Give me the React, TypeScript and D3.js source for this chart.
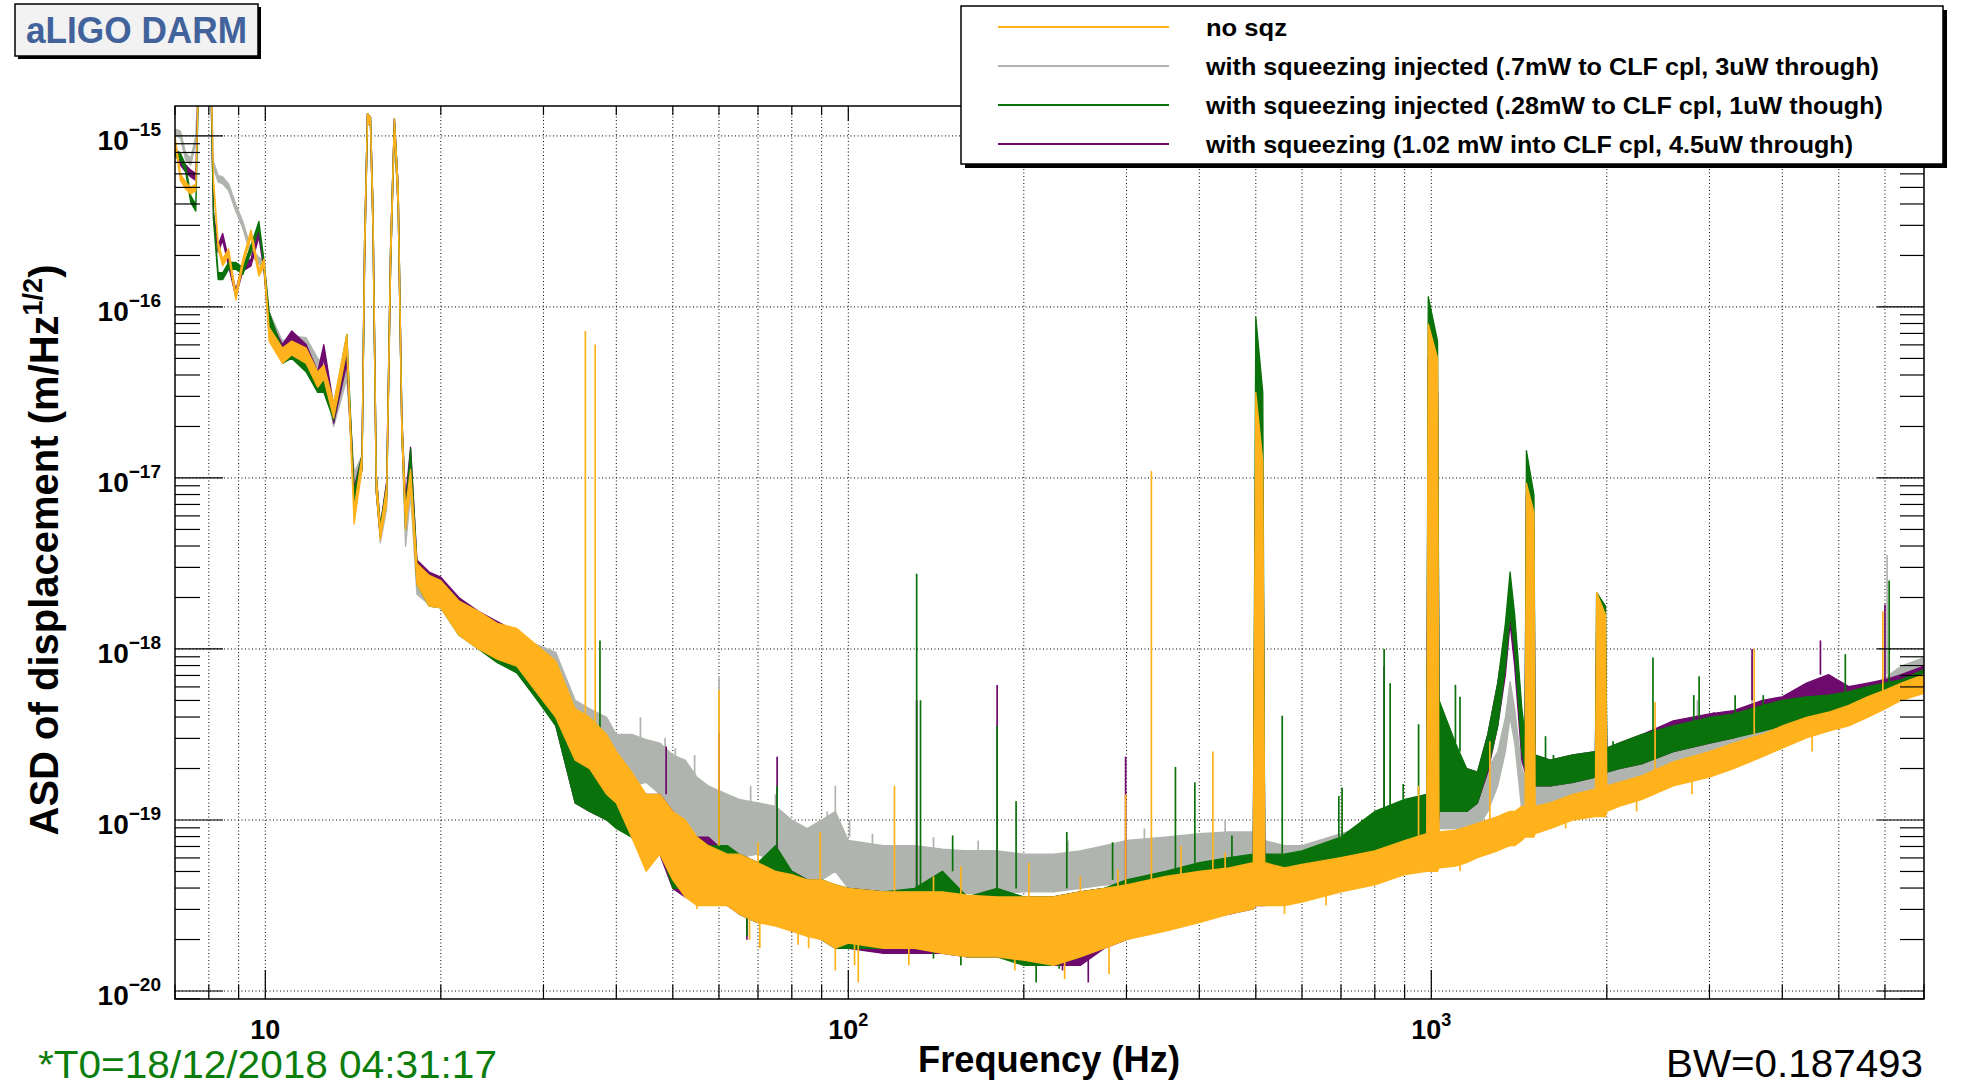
import React from "react";
import * as d3 from "d3";

// ---------------- data ----------------
// Frequencies (Hz) of the knots at which the traces were read.
const freqHz = [
  7.0, 7.15, 7.3, 7.45, 7.6, 7.7, 8.05, 8.15, 8.3, 8.45, 8.65, 8.9, 9.15, 9.45, 9.75, 9.95,
  10.15, 10.7, 11.1, 11.75, 12.3, 12.6, 13.1, 13.8, 14.2, 14.65, 14.8, 14.97, 15.15, 15.3, 15.5, 15.75,
  16.15, 16.4, 16.65, 16.9, 17.15, 17.4, 17.75, 18.2, 19.1, 20, 21.5, 23.2, 25, 27, 29, 31.5,
  34, 36, 38.5, 40, 42.5, 45, 47.5, 50, 52.5, 55, 57.5, 62, 65, 70, 75, 80,
  85, 90, 95, 100, 115, 130, 145, 160, 180, 200, 225, 250, 275, 300, 350, 400,
  450, 495, 500, 514, 518, 560, 600, 700, 800, 900, 982, 988, 1025, 1031, 1100, 1150,
  1200, 1250, 1300, 1340, 1365, 1390, 1430, 1448, 1456, 1500, 1507, 1600, 1750, 1912, 1921, 1990,
  2000, 2100, 2300, 2600, 3000, 3300, 3700, 4000, 4400, 4800, 5200, 5600, 6000, 6400, 7000,
];

// All ASD values below are log10 of the displacement ASD in m/Hz^(1/2):
// lower and upper edge of each noisy trace at every knot.
const noSqzLog10Lo = [
  -15.04, -15.26, -15.31, -15.34, -15.32, -14.54, -14.54, -15.29, -15.66, -15.76, -15.7, -15.96, -15.76, -15.59, -15.82, -15.76,
  -16.2, -16.33, -16.28, -16.33, -16.47, -16.42, -16.65, -16.25, -17.27, -16.95, -15.75, -14.92, -14.94, -15.55, -17.08, -17.36,
  -17.15, -15.78, -14.95, -15.42, -16.75, -17.3, -17.05, -17.62, -17.75, -17.76, -17.92, -18.0, -18.06, -18.1, -18.24, -18.4,
  -18.65, -18.7, -18.85, -18.9, -19.1, -19.3, -19.2, -19.35, -19.45, -19.5, -19.5, -19.5, -19.55, -19.6, -19.62, -19.65,
  -19.68, -19.7, -19.75, -19.72, -19.75, -19.75, -19.78, -19.8, -19.8, -19.82, -19.85, -19.8, -19.75, -19.7, -19.65, -19.6,
  -19.55, -19.52, -19.5, -19.5, -19.5, -19.5, -19.48, -19.42, -19.38, -19.32, -19.3, -19.3, -19.3, -19.28, -19.27, -19.25,
  -19.22, -19.2, -19.18, -19.16, -19.15, -19.15, -19.12, -19.1, -19.1, -19.1, -19.08, -19.05, -19.0, -18.98, -18.98, -18.98,
  -18.95, -18.92, -18.88, -18.8, -18.75, -18.7, -18.63, -18.58, -18.52, -18.48, -18.45, -18.4, -18.35, -18.3, -18.26,
];
const noSqzLog10Hi = [
  -15.0, -15.22, -15.27, -15.3, -15.28, -14.5, -14.5, -15.25, -15.62, -15.72, -15.66, -15.92, -15.72, -15.55, -15.78, -15.72,
  -16.12, -16.24, -16.2, -16.24, -16.38, -16.34, -16.56, -16.16, -17.18, -16.87, -15.62, -14.87, -14.89, -15.42, -16.98, -17.3,
  -17.05, -15.66, -14.9, -15.3, -16.65, -17.18, -16.95, -17.5, -17.57, -17.6, -17.72, -17.78, -17.85, -17.88, -17.97, -18.07,
  -18.35, -18.4, -18.5, -18.6, -18.72, -18.85, -18.85, -18.95, -19.0, -19.1, -19.15, -19.2, -19.2, -19.25, -19.3, -19.32,
  -19.35, -19.35, -19.38, -19.4, -19.42, -19.42, -19.42, -19.44, -19.45, -19.45, -19.45, -19.42, -19.4, -19.38, -19.33, -19.3,
  -19.28, -19.25, -16.5, -16.9, -19.25, -19.28, -19.26, -19.22, -19.18, -19.12, -19.08, -16.1, -16.3, -19.07, -19.06, -19.04,
  -19.02, -19.0, -18.98, -18.96, -18.95, -18.95, -18.92, -18.92, -17.03, -17.2, -18.92, -18.9, -18.85, -18.82, -17.67, -17.8,
  -18.8, -18.78, -18.74, -18.66, -18.6, -18.55, -18.5, -18.45, -18.4, -18.37, -18.33, -18.28, -18.24, -18.2, -18.15,
];

const sqz07Log10Lo = [
  -15.0, -15.01, -15.14, -15.17, -15.04, -14.54, -14.54, -15.19, -15.27, -15.28, -15.32, -15.44, -15.54, -15.7, -15.75, -15.77,
  -16.1, -16.28, -16.25, -16.27, -16.38, -16.42, -16.7, -16.42, -17.05, -16.95, -15.75, -14.92, -14.94, -15.55, -17.08, -17.38,
  -17.18, -15.78, -14.95, -15.42, -16.75, -17.4, -17.1, -17.68, -17.74, -17.75, -17.9, -17.98, -18.05, -18.12, -18.22, -18.38,
  -18.7, -18.7, -18.7, -18.72, -18.8, -18.78, -18.85, -19.0, -19.0, -19.1, -19.15, -19.2, -19.22, -19.2, -19.25, -19.35,
  -19.38, -19.35, -19.3, -19.4, -19.42, -19.42, -19.42, -19.43, -19.43, -19.42, -19.42, -19.4, -19.38, -19.37, -19.35, -19.33,
  -19.3, -19.3, -19.3, -19.3, -19.35, -19.38, -19.35, -19.28, -19.22, -19.18, -19.15, -19.15, -19.15, -19.05, -19.05, -19.1,
  -19.05, -18.95, -18.8, -18.6, -18.4, -18.55, -18.95, -18.97, -18.97, -18.97, -18.95, -18.92, -18.88, -18.85, -18.85, -18.85,
  -18.82, -18.8, -18.77, -18.72, -18.66, -18.62, -18.55, -18.5, -18.45, -18.42, -18.38, -18.33, -18.28, -18.22, -18.18,
];
const sqz07Log10Hi = [
  -14.96, -14.97, -15.1, -15.13, -15.0, -14.5, -14.5, -15.15, -15.23, -15.24, -15.28, -15.4, -15.5, -15.66, -15.71, -15.73,
  -16.03, -16.2, -16.17, -16.18, -16.3, -16.34, -16.62, -16.34, -16.97, -16.87, -15.62, -14.87, -14.89, -15.42, -16.98, -17.32,
  -17.1, -15.66, -14.9, -15.3, -16.65, -17.3, -17.0, -17.56, -17.58, -17.6, -17.7, -17.8, -17.86, -17.9, -17.97, -18.02,
  -18.3, -18.35, -18.4, -18.5, -18.5, -18.53, -18.55, -18.62, -18.65, -18.75, -18.8, -18.85, -18.88, -18.9, -18.92, -19.0,
  -19.05, -19.0, -18.95, -19.12, -19.15, -19.15, -19.17, -19.18, -19.18, -19.2, -19.2, -19.18, -19.15, -19.12, -19.1, -19.08,
  -19.07, -19.07, -16.7, -17.0, -19.12, -19.15, -19.15, -19.08, -19.02, -18.98, -18.95, -16.3, -16.5, -18.75, -18.8, -18.85,
  -18.82, -18.7, -18.6, -18.4, -18.19, -18.35, -18.7, -18.75, -17.1, -17.3, -18.75, -18.75, -18.72, -18.7, -17.9, -18.0,
  -18.68, -18.65, -18.62, -18.57, -18.52, -18.48, -18.42, -18.38, -18.33, -18.3, -18.27, -18.22, -18.17, -18.1, -18.05,
];

const sqz028Log10Lo = [
  -15.12, -15.14, -15.21, -15.39, -15.44, -14.54, -14.54, -15.49, -15.84, -15.84, -15.78, -15.78, -15.81, -15.68, -15.54, -15.77,
  -16.1, -16.33, -16.3, -16.38, -16.5, -16.5, -16.66, -16.25, -17.16, -16.95, -15.75, -14.92, -14.94, -15.55, -17.08, -17.34,
  -17.12, -15.78, -14.95, -15.42, -16.75, -17.3, -16.92, -17.62, -17.75, -17.76, -17.92, -18.0, -18.08, -18.14, -18.28, -18.45,
  -18.9, -18.95, -19.0, -19.05, -19.1, -19.2, -19.15, -19.4, -19.4, -19.45, -19.45, -19.45, -19.55, -19.6, -19.55, -19.6,
  -19.65, -19.7, -19.75, -19.75, -19.75, -19.75, -19.75, -19.8, -19.8, -19.85, -19.85, -19.8, -19.72, -19.68, -19.6, -19.55,
  -19.52, -19.5, -19.45, -19.45, -19.45, -19.45, -19.4, -19.3, -19.2, -19.15, -19.1, -19.1, -19.1, -18.95, -18.95, -18.95,
  -18.9, -18.7, -18.45, -18.1, -17.8, -18.0, -18.6, -18.7, -18.7, -18.7, -18.8, -18.8, -18.78, -18.75, -18.75, -18.75,
  -18.72, -18.7, -18.67, -18.6, -18.55, -18.52, -18.48, -18.45, -18.42, -18.4, -18.37, -18.35, -18.32, -18.3, -18.25,
];
const sqz028Log10Hi = [
  -15.08, -15.1, -15.17, -15.35, -15.4, -14.5, -14.5, -15.45, -15.8, -15.8, -15.74, -15.74, -15.77, -15.64, -15.5, -15.73,
  -16.03, -16.25, -16.22, -16.3, -16.42, -16.42, -16.58, -16.16, -17.08, -16.87, -15.62, -14.87, -14.89, -15.42, -16.98, -17.28,
  -17.04, -15.66, -14.9, -15.3, -16.65, -17.2, -16.83, -17.5, -17.57, -17.6, -17.72, -17.8, -17.87, -17.92, -18.0, -18.12,
  -18.45, -18.5, -18.75, -18.8, -18.85, -18.85, -18.9, -19.0, -19.05, -19.1, -19.15, -19.15, -19.2, -19.25, -19.15, -19.3,
  -19.35, -19.35, -19.38, -19.4, -19.42, -19.4, -19.3, -19.45, -19.4, -19.45, -19.45, -19.42, -19.4, -19.35, -19.3, -19.25,
  -19.22, -19.2, -16.06, -16.5, -19.2, -19.2, -19.18, -19.1, -18.95, -18.88, -18.85, -15.94, -16.2, -18.3, -18.55, -18.7,
  -18.72, -18.5, -18.2, -17.85, -17.55, -17.8, -18.35, -18.5, -16.84, -17.1, -18.62, -18.65, -18.62, -18.6, -17.67, -17.75,
  -18.58, -18.55, -18.5, -18.45, -18.4, -18.38, -18.33, -18.3, -18.28, -18.27, -18.25, -18.22, -18.2, -18.18, -18.12,
];

const sqz102Log10Lo = [
  -15.1, -15.17, -15.21, -15.24, -15.26, -14.54, -14.54, -15.49, -15.68, -15.61, -15.76, -15.94, -15.79, -15.76, -15.59, -15.79,
  -16.15, -16.3, -16.22, -16.3, -16.47, -16.3, -16.68, -16.33, -17.14, -16.95, -15.75, -14.92, -14.94, -15.55, -17.08, -17.34,
  -17.1, -15.78, -14.95, -15.42, -16.75, -17.22, -16.9, -17.6, -17.72, -17.74, -17.88, -17.98, -18.04, -18.12, -18.25, -18.45,
  -18.9, -18.95, -19.0, -19.0, -19.1, -19.25, -19.2, -19.4, -19.45, -19.45, -19.45, -19.5, -19.55, -19.6, -19.6, -19.65,
  -19.65, -19.7, -19.75, -19.75, -19.78, -19.78, -19.78, -19.8, -19.8, -19.82, -19.85, -19.85, -19.75, -19.7, -19.62, -19.58,
  -19.55, -19.52, -19.5, -19.5, -19.5, -19.45, -19.42, -19.32, -19.22, -19.15, -19.1, -19.1, -19.1, -18.95, -18.95, -18.95,
  -18.9, -18.72, -18.45, -18.15, -17.85, -18.1, -18.65, -18.72, -18.72, -18.72, -18.8, -18.8, -18.78, -18.75, -18.75, -18.75,
  -18.72, -18.7, -18.67, -18.6, -18.55, -18.52, -18.45, -18.42, -18.38, -18.35, -18.35, -18.33, -18.3, -18.3, -18.22,
];
const sqz102Log10Hi = [
  -15.06, -15.13, -15.17, -15.2, -15.22, -14.5, -14.5, -15.45, -15.64, -15.57, -15.72, -15.9, -15.75, -15.72, -15.55, -15.75,
  -16.07, -16.22, -16.14, -16.22, -16.38, -16.22, -16.58, -16.25, -17.06, -16.87, -15.62, -14.87, -14.89, -15.42, -16.98, -17.28,
  -17.02, -15.66, -14.9, -15.3, -16.65, -17.12, -16.82, -17.48, -17.55, -17.58, -17.7, -17.78, -17.84, -17.9, -17.98, -18.1,
  -18.45, -18.5, -18.75, -18.8, -18.8, -18.85, -18.85, -18.95, -19.05, -19.1, -19.1, -19.2, -19.2, -19.25, -19.25, -19.3,
  -19.35, -19.35, -19.4, -19.4, -19.42, -19.42, -19.42, -19.45, -19.45, -19.45, -19.45, -19.42, -19.4, -19.38, -19.32, -19.28,
  -19.25, -19.22, -16.86, -17.05, -19.2, -19.22, -19.2, -19.12, -18.98, -18.9, -18.85, -16.3, -16.5, -18.35, -18.6, -18.7,
  -18.72, -18.5, -18.2, -17.9, -17.65, -17.85, -18.4, -18.52, -17.1, -17.3, -18.62, -18.65, -18.62, -18.6, -17.9, -18.0,
  -18.58, -18.55, -18.5, -18.42, -18.38, -18.36, -18.3, -18.28, -18.2, -18.15, -18.22, -18.2, -18.18, -18.15, -18.1,
];

// Narrow lines (lines and noise excursions): [frequency Hz, log10 ASD at foot, log10 ASD at tip]
const noSqzSpikes = [
  [35.4, -18.45, -16.14], [36.8, -18.45, -16.22], [60, -19.15, -18.24], [89.5, -19.35, -19.07],
  [120, -19.42, -18.8], [299, -19.38, -18.85], [331, -19.35, -16.96], [422, -19.3, -18.6],
  [1260, -19.0, -18.54], [2420, -18.75, -18.31], [3580, -18.5, -18.0], [5950, -18.25, -17.78],
  [55, -19.3, -19.52], [67.7, -19.35, -19.7], [70, -19.25, -19.13], [82, -19.4, -19.73], [85.5, -19.4, -19.75],
  [70.5, -19.3, -19.75], [95, -19.45, -19.88], [102.5, -19.45, -19.85], [104, -19.45, -19.95],
  [127, -19.45, -19.85], [140, -19.45, -19.33], [156, -19.45, -19.27], [193, -19.5, -19.88],
  [204, -19.45, -19.25], [225, -19.5, -19.73], [235, -19.5, -19.93], [250, -19.42, -19.33],
  [280, -19.45, -19.9], [290, -19.4, -19.29], [372, -19.33, -19.15], [443, -19.3, -19.19],
  [560, -19.3, -19.55], [660, -19.25, -19.5], [951, -19.12, -18.8], [1120, -19.06, -19.3],
  [1700, -18.88, -19.05], [2250, -18.76, -18.95], [2800, -18.66, -18.85], [4500, -18.42, -18.6],
];
const sqz07Spikes = [
  [44, -18.6, -18.4], [48.5, -18.6, -18.52], [50.5, -18.65, -18.58], [54.5, -18.75, -18.62],
  [60, -18.85, -18.17], [68, -18.9, -18.8], [75, -18.95, -18.85], [92, -19.0, -18.95],
  [95, -19.0, -18.8], [100.5, -19.1, -19.0], [110, -19.15, -19.08], [140, -19.17, -19.1],
  [167, -19.18, -19.12], [238, -19.2, -19.12], [322, -19.12, -19.05], [443, -19.08, -19.0],
  [850, -19.0, -18.66], [2860, -18.5, -18.3], [3550, -18.45, -18.05], [6050, -18.15, -17.45],
];
const sqz028Spikes = [
  [37.5, -18.6, -17.95], [60, -19.15, -18.84], [75.5, -19.15, -18.8], [131, -19.4, -17.56],
  [133, -19.4, -18.3], [151, -19.3, -19.09], [180, -19.4, -18.45], [194, -19.4, -18.89],
  [210, -19.5, -19.95], [364, -19.3, -18.69], [393, -19.25, -18.78], [555, -19.2, -18.39],
  [830, -18.95, -18.0], [850, -18.95, -18.2], [2400, -18.5, -18.05], [2880, -18.4, -18.16],
  [5130, -18.25, -18.03], [6100, -18.2, -17.6],
  [67, -19.5, -19.68], [102, -19.6, -19.75], [140, -19.6, -19.81], [156, -19.6, -19.85],
  [190, -19.6, -19.77], [230, -19.6, -19.87], [237, -19.4, -19.07], [284, -19.35, -19.13],
  [455, -19.22, -19.09], [694, -19.1, -18.86], [703, -19.1, -18.81], [760, -19.05, -19.0],
  [895, -18.88, -18.79], [951, -18.85, -18.44], [1100, -18.55, -18.21], [1120, -18.6, -18.28],
  [1570, -18.65, -18.51], [1620, -18.65, -18.62], [2050, -18.58, -18.54], [2820, -18.42, -18.27],
  [3320, -18.38, -18.27], [3710, -18.33, -18.27],
];
const sqz102Spikes = [
  [48.7, -18.85, -18.57], [60, -19.1, -18.49], [75.5, -19.2, -18.63], [131, -19.4, -18.3],
  [180, -19.45, -18.21], [258, -19.5, -19.95], [299, -19.38, -18.63], [830, -18.95, -18.1],
  [3550, -18.3, -18.0], [4650, -18.15, -17.95], [6000, -18.18, -17.74],
  [67, -19.5, -19.7], [117, -19.6, -19.77], [160, -19.6, -19.8], [233, -19.6, -19.88],
  [3050, -18.38, -18.37], [3960, -18.28, -18.4],
];

const legendLabels = [
  "no sqz",
  "with squeezing injected (.7mW to CLF cpl, 3uW through)",
  "with squeezing injected (.28mW to CLF cpl, 1uW though)",
  "with squeezing (1.02 mW into CLF cpl, 4.5uW through)",
];
const legendWidths = [81, 673, 677, 647];
const traceColors = ["#ffb21c", "#b0b4ae", "#0a720a", "#6e0a6e"];

const yTickExponents = [-20, -19, -18, -17, -16, -15];
const xTickLabels = [
  { value: 10, base: "10", sup: "" },
  { value: 100, base: "10", sup: "2" },
  { value: 1000, base: "10", sup: "3" },
];

const FONT = "'Liberation Sans', Arial, Helvetica, sans-serif";

export default function App() {
  const W = 1964;
  const H = 1089;
  const L = 175, R = 1924, T = 106, B = 999;

  const x = d3.scaleLog().domain([7, 7000]).range([L, R]);
  const y = d3.scaleLog().domain([8.98e-21, 1.496e-15]).range([B, T]);
  const idx = d3.range(freqHz.length);

  const traces = [
    { lo: noSqzLog10Lo, hi: noSqzLog10Hi, spikes: noSqzSpikes, color: traceColors[0] },
    { lo: sqz07Log10Lo, hi: sqz07Log10Hi, spikes: sqz07Spikes, color: traceColors[1] },
    { lo: sqz028Log10Lo, hi: sqz028Log10Hi, spikes: sqz028Spikes, color: traceColors[2] },
    { lo: sqz102Log10Lo, hi: sqz102Log10Hi, spikes: sqz102Spikes, color: traceColors[3] },
  ];
  // draw order: grey, purple, green, orange on top
  const drawOrder = [1, 3, 2, 0];

  const makeArea = (lo: number[], hi: number[]) =>
    d3
      .area<number>()
      .x((i) => x(freqHz[i]))
      .y0((i) => y(Math.pow(10, lo[i])))
      .y1((i) => y(Math.pow(10, hi[i])))(idx) || "";

  const xTicks = x.ticks();
  const yTicks = y.ticks();
  const isMajor = (v: number) => Math.abs(Math.log10(v) - Math.round(Math.log10(v))) < 1e-6;

  return (
    <svg
      width={W}
      height={H}
      viewBox={`0 0 ${W} ${H}`}
      style={{ position: "absolute", left: 0, top: 0, background: "#fff", fontFamily: FONT }}
    >
      <defs>
        <clipPath id="frameClip">
          <rect x={L} y={T} width={R - L} height={B - T} />
        </clipPath>
      </defs>
      <rect x={0} y={0} width={W} height={H} fill="#fff" />

      {/* grid */}
      <g stroke="#000" strokeWidth={1} strokeDasharray="1 2.5">
        {xTicks
          .filter((t) => t > 7.01 && t < 6999)
          .map((t, i) => (
            <line key={"gx" + i} x1={x(t)} x2={x(t)} y1={T} y2={B} />
          ))}
        {yTickExponents.map((e) => (
          <line key={"gy" + e} x1={L} x2={R} y1={y(Math.pow(10, e))} y2={y(Math.pow(10, e))} />
        ))}
      </g>

      {/* traces */}
      <g clipPath="url(#frameClip)">
        {drawOrder.map((k) => {
          const tr = traces[k];
          return (
            <g key={"tr" + k}>
              <path
                d={makeArea(tr.lo, tr.hi)}
                fill={tr.color}
                stroke={tr.color}
                strokeWidth={1.3}
                strokeLinejoin="round"
              />
              {tr.spikes.map((s, j) => (
                <line
                  key={j}
                  x1={x(s[0])}
                  x2={x(s[0])}
                  y1={y(Math.pow(10, s[1]))}
                  y2={y(Math.pow(10, s[2]))}
                  stroke={tr.color}
                  strokeWidth={1.7}
                />
              ))}
            </g>
          );
        })}
      </g>

      {/* frame */}
      <rect x={L} y={T} width={R - L} height={B - T} fill="none" stroke="#000" strokeWidth={1.5} />

      {/* ticks */}
      <g stroke="#000" strokeWidth={1.2}>
        {xTicks.map((t, i) => {
          const xx = x(t);
          const mj = isMajor(t);
          return (
            <g key={"tx" + i}>
              <line x1={xx} x2={xx} y1={B} y2={B - (mj ? 29 : 14.5)} />
              <line x1={xx} x2={xx} y1={T} y2={T + (mj ? 15 : 9)} />
            </g>
          );
        })}
        {yTicks.map((t, i) => {
          const yy = y(t);
          const mj = isMajor(t);
          return (
            <g key={"ty" + i}>
              <line x1={L} x2={L + (mj ? 48 : 25)} y1={yy} y2={yy} />
              <line x1={R} x2={R - (mj ? 47 : 24)} y1={yy} y2={yy} />
            </g>
          );
        })}
      </g>

      {/* y tick labels */}
      <g fontWeight="bold" fill="#000">
        {yTickExponents.map((e) => {
          const yy = y(Math.pow(10, e));
          return (
            <text key={"yl" + e} x={161} y={yy + 13.7} textAnchor="end" fontSize={28}>
              10
              <tspan dy={-13.3} fontSize={19}>
                {"\u2212" + Math.abs(e)}
              </tspan>
            </text>
          );
        })}
      </g>

      {/* x tick labels */}
      <g fontWeight="bold" fill="#000">
        {xTickLabels.map((t) => (
          <text key={"xl" + t.value} x={x(t.value)} y={1039} textAnchor="middle" fontSize={27}>
            {t.base}
            {t.sup ? (
              <tspan dy={-13} fontSize={18}>
                {t.sup}
              </tspan>
            ) : null}
          </text>
        ))}
      </g>

      {/* axis titles */}
      <text
        x={1049}
        y={1072}
        textAnchor="middle"
        fontSize={36}
        fontWeight="bold"
        textLength={262}
        lengthAdjust="spacingAndGlyphs"
      >
        Frequency (Hz)
      </text>
      <text
        transform="translate(58,550) rotate(-90)"
        textAnchor="middle"
        fontSize={40}
        fontWeight="bold"
      >
        ASD of displacement (m/Hz
        <tspan dy={-16} fontSize={27}>
          1/2
        </tspan>
        <tspan dy={16}>)</tspan>
      </text>

      {/* bottom annotations */}
      <text x={38} y={1078} fontSize={38} fill="#0a7d0a" textLength={459} lengthAdjust="spacingAndGlyphs">
        *T0=18/12/2018 04:31:17
      </text>
      <text
        x={1923}
        y={1077}
        textAnchor="end"
        fontSize={39}
        fill="#000"
        textLength={257}
        lengthAdjust="spacingAndGlyphs"
      >
        BW=0.187493
      </text>

      {/* title box */}
      <rect x={18} y={7} width={243} height={52} fill="#000" />
      <rect x={15} y={4} width={243} height={52} fill="#f2f2f2" stroke="#000" strokeWidth={1.5} />
      <text
        x={136.5}
        y={43}
        textAnchor="middle"
        fontSize={37}
        fontWeight="bold"
        fill="#41629b"
        textLength={221}
        lengthAdjust="spacingAndGlyphs"
      >
        aLIGO DARM
      </text>

      {/* legend */}
      <rect x={965} y={10} width={982} height={158} fill="#000" />
      <rect x={961} y={6} width={982} height={158} fill="#fff" stroke="#000" strokeWidth={1.5} />
      {legendLabels.map((lab, i) => {
        const cy = 27 + i * 39;
        return (
          <g key={"lg" + i}>
            <line x1={998} x2={1169} y1={cy} y2={cy} stroke={traceColors[i]} strokeWidth={2.2} />
            <text
              x={1206}
              y={cy + 8.5}
              fontSize={24}
              fontWeight="bold"
              fill="#000"
              textLength={legendWidths[i]}
              lengthAdjust="spacingAndGlyphs"
            >
              {lab}
            </text>
          </g>
        );
      })}
    </svg>
  );
}
